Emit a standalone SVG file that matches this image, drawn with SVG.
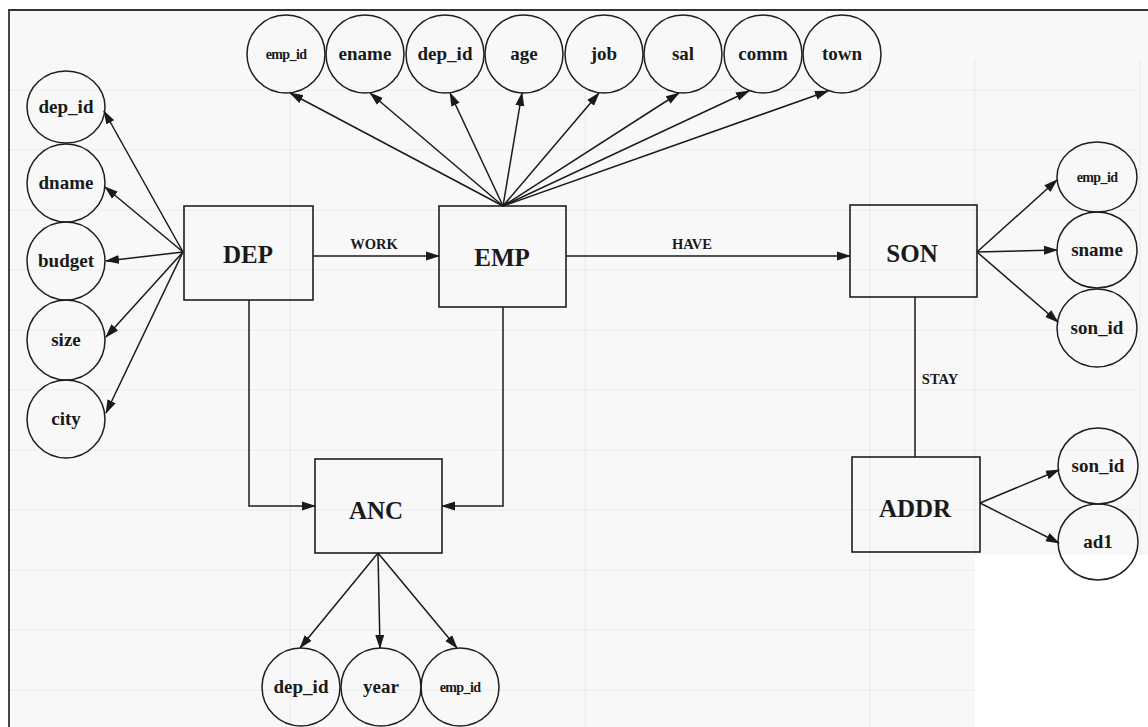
<svg xmlns="http://www.w3.org/2000/svg" width="1148" height="727" viewBox="0 0 1148 727">
  <style>
    .ent { fill: none; stroke: #1e1e1e; stroke-width: 1.6; }
    .att { fill: none; stroke: #1e1e1e; stroke-width: 1.5; }
    .edge { fill: none; stroke: #1a1a1a; stroke-width: 1.5; }
    .grid { stroke: #ececec; stroke-width: 1.2; fill: none; }
    text { font-family: 'Liberation Serif', 'DejaVu Serif', 'Times New Roman', serif; font-weight: bold; fill: #1a1a1a; text-anchor: middle; }
    .big { font-size: 25px; }
    .lbl { font-size: 19px; }
    .sm { font-size: 14px; letter-spacing: -0.6px; }
    .rel { font-size: 14.5px; }
  </style>
  <defs>
    <marker id="arrow" markerUnits="userSpaceOnUse" markerWidth="14" markerHeight="10" refX="13" refY="5" orient="auto">
      <path d="M0,0.5 L14,5 L0,9.5 z" fill="#1a1a1a"/>
    </marker>
  </defs>

  <!-- page background with the faint ruled table behind the drawing -->
  <rect x="0" y="0" width="1148" height="727" fill="#ffffff"/>
  <rect x="9" y="10" width="1139" height="717" fill="#f8f8f8"/>
  <rect x="975" y="555" width="173" height="172" fill="#ffffff"/>
  <g id="ruling">
    <path class="grid" d="M290,90 V727 M585,90 V727 M870,60 V727 M975,60 V555 M1140,60 V555"/>
    <path class="grid" d="M9,90 H1140 M9,150 H1140 M9,210 H1140 M9,270 H1140 M9,330 H1140 M9,390 H1140 M9,450 H1140 M9,510 H1140 M9,570 H975 M9,630 H975 M9,690 H975"/>
  </g>

  <!-- frame -->
  <path d="M9,727 V10 H1148" fill="none" stroke="#333" stroke-width="1.8"/>

  <!-- connectors -->
  <g id="connectors">
    <!-- DEP attributes -->
    <line class="edge" x1="183" y1="252" x2="104" y2="111" marker-end="url(#arrow)"/>
    <line class="edge" x1="183" y1="252" x2="105" y2="187" marker-end="url(#arrow)"/>
    <line class="edge" x1="183" y1="252" x2="106" y2="261" marker-end="url(#arrow)"/>
    <line class="edge" x1="183" y1="252" x2="106" y2="337" marker-end="url(#arrow)"/>
    <line class="edge" x1="183" y1="252" x2="106" y2="413" marker-end="url(#arrow)"/>
    <!-- EMP attributes -->
    <line class="edge" x1="503" y1="206" x2="290" y2="93" marker-end="url(#arrow)"/>
    <line class="edge" x1="503" y1="206" x2="370" y2="93" marker-end="url(#arrow)"/>
    <line class="edge" x1="503" y1="206" x2="450" y2="93" marker-end="url(#arrow)"/>
    <line class="edge" x1="503" y1="206" x2="522" y2="93" marker-end="url(#arrow)"/>
    <line class="edge" x1="503" y1="206" x2="599" y2="93" marker-end="url(#arrow)"/>
    <line class="edge" x1="503" y1="206" x2="679" y2="93" marker-end="url(#arrow)"/>
    <line class="edge" x1="503" y1="206" x2="749" y2="91" marker-end="url(#arrow)"/>
    <line class="edge" x1="503" y1="206" x2="828" y2="91" marker-end="url(#arrow)"/>
    <!-- relationships -->
    <line class="edge" x1="313" y1="256" x2="439" y2="256" marker-end="url(#arrow)"/>
    <line class="edge" x1="566" y1="256" x2="850" y2="256" marker-end="url(#arrow)"/>
    <line class="edge" x1="915" y1="297" x2="915" y2="457"/>
    <polyline class="edge" points="249,300 249,506 315,506" marker-end="url(#arrow)"/>
    <polyline class="edge" points="503,307 503,506 442,506" marker-end="url(#arrow)"/>
    <!-- ANC attributes -->
    <line class="edge" x1="378" y1="553" x2="300" y2="648" marker-end="url(#arrow)"/>
    <line class="edge" x1="378" y1="553" x2="380" y2="648" marker-end="url(#arrow)"/>
    <line class="edge" x1="378" y1="553" x2="457" y2="648" marker-end="url(#arrow)"/>
    <!-- SON attributes -->
    <line class="edge" x1="977" y1="252" x2="1057" y2="180" marker-end="url(#arrow)"/>
    <line class="edge" x1="977" y1="252" x2="1057" y2="250" marker-end="url(#arrow)"/>
    <line class="edge" x1="977" y1="252" x2="1058" y2="322" marker-end="url(#arrow)"/>
    <!-- ADDR attributes -->
    <line class="edge" x1="980" y1="503" x2="1059" y2="470" marker-end="url(#arrow)"/>
    <line class="edge" x1="980" y1="503" x2="1059" y2="543" marker-end="url(#arrow)"/>
    <!-- relationship names -->
    <text class="rel" x="374" y="249">WORK</text>
    <text class="rel" x="692" y="249">HAVE</text>
    <text class="rel" x="940" y="384">STAY</text>
  </g>

  <!-- entities -->
  <g id="DEP"><rect class="ent" x="184" y="206" width="129" height="94"/><text class="big" x="248" y="263">DEP</text></g>
  <g id="EMP"><rect class="ent" x="439" y="206" width="127" height="101"/><text class="big" x="502" y="266">EMP</text></g>
  <g id="SON"><rect class="ent" x="850" y="205" width="127" height="92"/><text class="big" x="912" y="262">SON</text></g>
  <g id="ANC"><rect class="ent" x="315" y="459" width="127" height="94"/><text class="big" x="376" y="519">ANC</text></g>
  <g id="ADDR"><rect class="ent" x="852" y="457" width="128" height="95"/><text class="big" x="915" y="517">ADDR</text></g>

  <!-- DEP attributes -->
  <g id="dep-dep_id"><ellipse class="att" cx="66" cy="107" rx="39" ry="36"/><text class="lbl" x="66" y="113">dep_id</text></g>
  <g id="dep-dname"><ellipse class="att" cx="66" cy="183" rx="39" ry="39"/><text class="lbl" x="66" y="189">dname</text></g>
  <g id="dep-budget"><ellipse class="att" cx="66" cy="261" rx="39" ry="39"/><text class="lbl" x="66" y="267">budget</text></g>
  <g id="dep-size"><ellipse class="att" cx="66" cy="340" rx="39" ry="40"/><text class="lbl" x="66" y="346">size</text></g>
  <g id="dep-city"><ellipse class="att" cx="66" cy="419" rx="39" ry="39"/><text class="lbl" x="66" y="425">city</text></g>

  <!-- EMP attributes -->
  <g id="emp-emp_id"><ellipse class="att" cx="286" cy="54" rx="39" ry="39"/><text class="sm" x="286" y="59">emp_id</text></g>
  <g id="emp-ename"><ellipse class="att" cx="365" cy="54" rx="39" ry="39"/><text class="lbl" x="365" y="60">ename</text></g>
  <g id="emp-dep_id"><ellipse class="att" cx="445" cy="54" rx="39" ry="39"/><text class="lbl" x="445" y="60">dep_id</text></g>
  <g id="emp-age"><ellipse class="att" cx="524" cy="54" rx="39" ry="39"/><text class="lbl" x="524" y="60">age</text></g>
  <g id="emp-job"><ellipse class="att" cx="604" cy="54" rx="39" ry="39"/><text class="lbl" x="604" y="60">job</text></g>
  <g id="emp-sal"><ellipse class="att" cx="683" cy="54" rx="39" ry="39"/><text class="lbl" x="683" y="60">sal</text></g>
  <g id="emp-comm"><ellipse class="att" cx="763" cy="54" rx="39" ry="39"/><text class="lbl" x="763" y="60">comm</text></g>
  <g id="emp-town"><ellipse class="att" cx="842" cy="54" rx="39" ry="39"/><text class="lbl" x="842" y="60">town</text></g>

  <!-- SON attributes -->
  <g id="son-emp_id"><ellipse class="att" cx="1097" cy="177" rx="40" ry="35"/><text class="sm" x="1097" y="182">emp_id</text></g>
  <g id="son-sname"><ellipse class="att" cx="1097" cy="250" rx="40" ry="38"/><text class="lbl" x="1097" y="256">sname</text></g>
  <g id="son-son_id"><ellipse class="att" cx="1097" cy="328" rx="40" ry="39"/><text class="lbl" x="1097" y="334">son_id</text></g>

  <!-- ADDR attributes -->
  <g id="addr-son_id"><ellipse class="att" cx="1098" cy="466" rx="40" ry="38"/><text class="lbl" x="1098" y="472">son_id</text></g>
  <g id="addr-ad1"><ellipse class="att" cx="1098" cy="542" rx="40" ry="38"/><text class="lbl" x="1098" y="548">ad1</text></g>

  <!-- ANC attributes -->
  <g id="anc-dep_id"><ellipse class="att" cx="301" cy="687" rx="39" ry="39"/><text class="lbl" x="301" y="693">dep_id</text></g>
  <g id="anc-year"><ellipse class="att" cx="381" cy="687" rx="40" ry="39"/><text class="lbl" x="381" y="693">year</text></g>
  <g id="anc-emp_id"><ellipse class="att" cx="460" cy="687" rx="39" ry="39"/><text class="sm" x="460" y="692">emp_id</text></g>
</svg>
